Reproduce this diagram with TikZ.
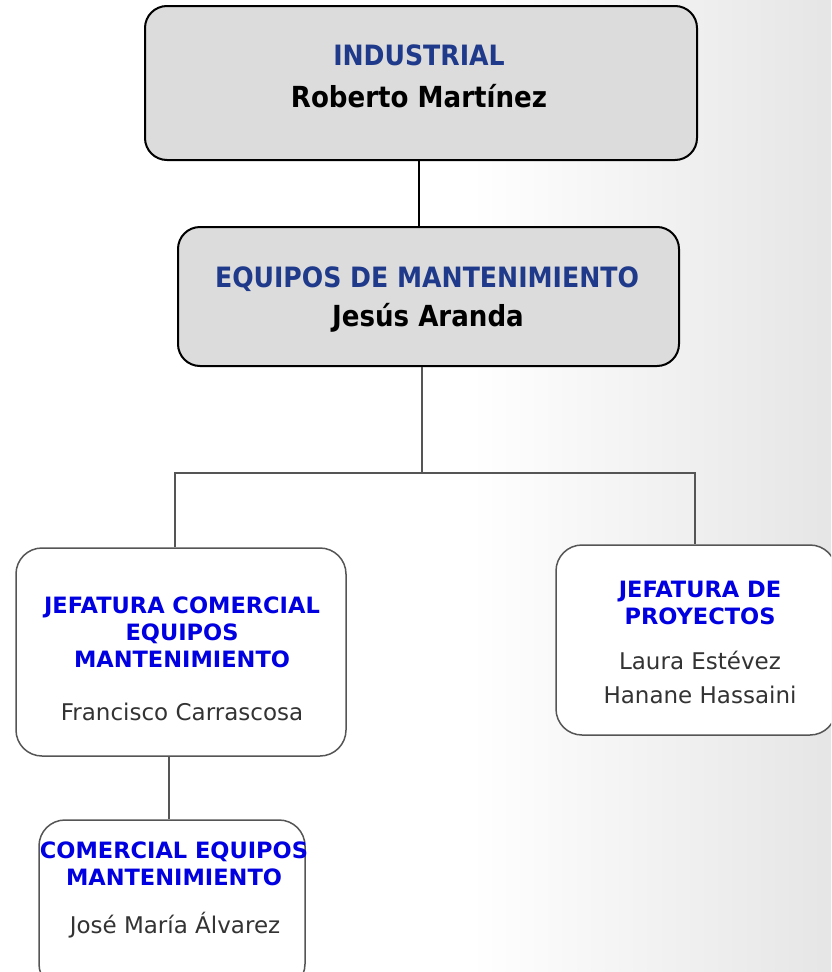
\documentclass[tikz,border=0pt]{standalone}
\usepackage{fontspec}
\setmainfont{DejaVu Sans Condensed}
\newfontfamily\anchafont{DejaVu Sans}
\definecolor{cajagris}{HTML}{DCDCDC}
\definecolor{lineagris}{HTML}{555555}
\definecolor{azuloscuro}{HTML}{1F3A8A}
\definecolor{azulvivo}{HTML}{0000E0}
\definecolor{textogris}{HTML}{333333}
\begin{document}
\begin{tikzpicture}[x=1pt,y=-1pt,
    direccion/.style={draw=black, line width=2pt, fill=cajagris, rounded corners=22pt, inner sep=0pt},
    jefatura/.style={draw=lineagris, line width=1.5pt, fill=white, rounded corners=26pt, inner sep=0pt},
    titulo/.style={font=\fontsize{28}{40}\selectfont\bfseries, text=azuloscuro, align=center, inner sep=0pt},
    jefe/.style={font=\fontsize{29}{40}\selectfont\bfseries, text=black, align=center, inner sep=0pt},
    cargo/.style={font=\anchafont\fontsize{22.5}{27}\selectfont\bfseries, text=azulvivo, align=center, inner sep=0pt},
    nombre/.style={font=\anchafont\fontsize{23}{34}\selectfont, text=textogris, align=center, inner sep=0pt}]
    \useasboundingbox (0,0) rectangle (831,972);
    \clip (0,0) rectangle (831,972);
    % fondo
    \fill[left color=white, right color=black!10] (470,0) rectangle (831,972);

    \coordinate (fork) at (422,473);
    \coordinate (forkL) at (175,473);
    \coordinate (forkR) at (695,473);

    % cajas
    \node[direccion, minimum width=552pt, minimum height=154pt] (industrial) at (421,83) {};
    \node[direccion, minimum width=501pt, minimum height=139pt] (equipos) at (428.5,296.5) {};
    \node[jefatura, minimum width=330pt, minimum height=208pt] (comercial) at (181,652) {};
    \node[jefatura, minimum width=280pt, minimum height=190pt] (proyectos) at (696,640) {};
    \node[jefatura, minimum width=266pt, minimum height=170pt] (comequipos) at (172,905) {};

    % conexiones
    \draw[line width=1.5pt] (industrial.south -| 419,0) -- (equipos.north -| 419,0);
    \draw[lineagris, line width=1.5pt] (equipos.south -| fork) -- (fork);
    \draw[lineagris, line width=1.5pt] (comercial.north -| forkL) -- (forkL) -- (forkR) -- (proyectos.north -| forkR);
    \draw[lineagris, line width=1.5pt] (comercial.south -| 169,0) -- (comequipos.north -| 169,0);

    % textos
    \node[titulo] (tindustrial) at (419,55) {INDUSTRIAL};
    \node[jefe] (nindustrial) at (419,96) {Roberto Martínez};
    \node[titulo] (tequipos) at (427,279) {EQUIPOS DE MANTENIMIENTO};
    \node[jefe] (nequipos) at (428,318) {Jesús Aranda};
    \node[cargo] (tcomercial) at (182,632) {JEFATURA COMERCIAL\\EQUIPOS\\MANTENIMIENTO};
    \node[nombre] (ncomercial) at (182,712) {Francisco Carrascosa};
    \node[cargo] (tproyectos) at (700,603) {JEFATURA DE\\PROYECTOS};
    \node[nombre] (nproyectos) at (700,677) {Laura Estévez\\Hanane Hassaini};
    \node[cargo] (tcomequipos) at (174,864) {COMERCIAL EQUIPOS\\MANTENIMIENTO};
    \node[nombre] (ncomequipos) at (175,925) {José María Álvarez};
\end{tikzpicture}
\end{document}
